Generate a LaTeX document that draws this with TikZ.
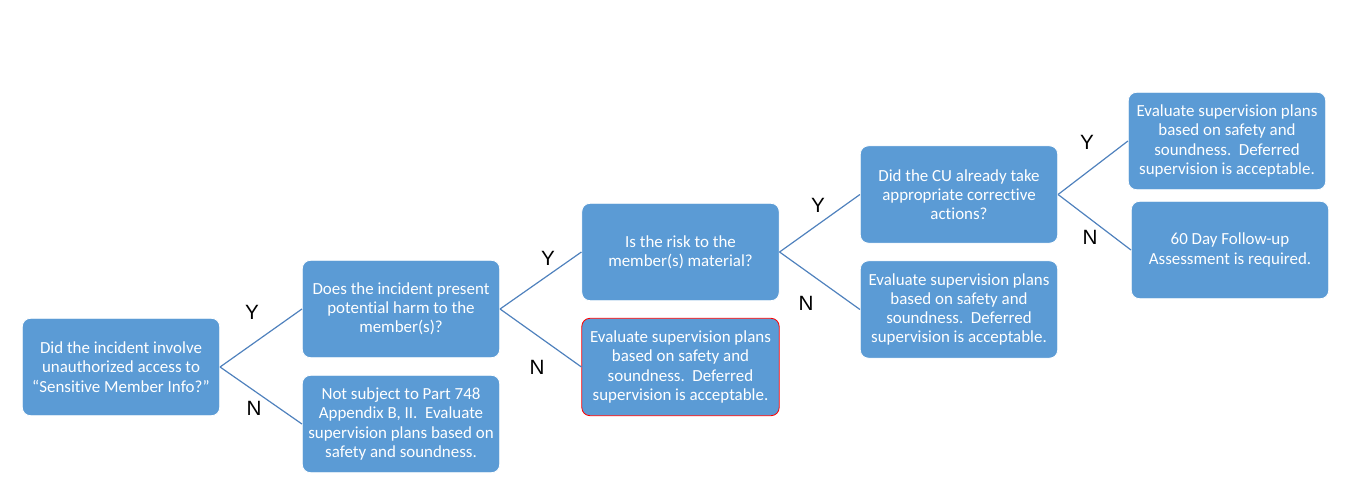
\documentclass[tikz,border=0pt]{standalone}
\usepackage{fontspec}
\setmainfont[Ligatures=NoCommon]{Carlito}
\newfontfamily\yesnofont{Liberation Sans}
\usepackage{tikz}
\usetikzlibrary{positioning}

\definecolor{boxblue}{HTML}{5B9BD5}
\definecolor{linkblue}{HTML}{4F81BD}

\begin{document}
\begin{tikzpicture}[
    x=0.75pt, y=-0.75pt,
    box/.style={draw=white, line width=0.6pt, fill=boxblue, text=white, rounded corners=6pt,
        minimum width=148pt, minimum height=73pt, align=center, inner sep=1pt,
        font=\fontsize{12.7}{14.4}\selectfont},
    redbox/.style={box, draw=red},
    link/.style={draw=linkblue, line width=0.9pt},
    yn/.style={font=\yesnofont\fontsize{15.5}{16}\selectfont, text=black, inner sep=0pt}
]
\useasboundingbox (0,0) rectangle (1347,491);

% Question 1
\node[box] (incident) at (121, 367) {Did the incident involve\\unauthorized access to\\``Sensitive Member Info?''};

% Level 2
\node[box] (harm) at (401, 309) {Does the incident present\\potential harm to the\\member(s)?};
\node[box] (notsubject) at (401, 424) {Not subject to Part 748\\Appendix B, II.\ \ Evaluate\\supervision plans based on\\safety and soundness.};

% Level 3
\node[box] (material) at (680.5, 252) {Is the risk to the\\member(s) material?};
\node[redbox] (evalA) at (680.5, 367) {Evaluate supervision plans\\based on safety and\\soundness.\ \ Deferred\\supervision is acceptable.};

% Level 4
\node[box] (corrective) at (959, 194.5) {Did the CU already take\\appropriate corrective\\actions?};
\node[box] (evalB) at (959, 309.5) {Evaluate supervision plans\\based on safety and\\soundness.\ \ Deferred\\supervision is acceptable.};

% Level 5
\node[box] (evalC) at (1227, 141) {Evaluate supervision plans\\based on safety and\\soundness.\ \ Deferred\\supervision is acceptable.};
\node[box] (followup) at (1230, 250) {60 Day Follow-up\\Assessment is required.};

% Connectors
\draw[link] (incident.east) -- (harm.west);
\draw[link] (incident.east) -- (notsubject.west);
\draw[link] (harm.east) -- (material.west);
\draw[link] (harm.east) -- (evalA.west);
\draw[link] (material.east) -- (corrective.west);
\draw[link] (material.east) -- (evalB.west);
\draw[link] (corrective.east) -- (evalC.west);
\draw[link] (corrective.east) -- (followup.west);

% Y / N labels
\node[yn] (y1) at (252, 312) {Y};
\node[yn] (n1) at (254, 408) {N};
\node[yn] (y2) at (548, 258) {Y};
\node[yn] (n2) at (537, 367) {N};
\node[yn] (y3) at (818, 205) {Y};
\node[yn] (n3) at (806, 303) {N};
\node[yn] (y4) at (1087, 142) {Y};
\node[yn] (n4) at (1090, 237) {N};

\end{tikzpicture}
\end{document}
